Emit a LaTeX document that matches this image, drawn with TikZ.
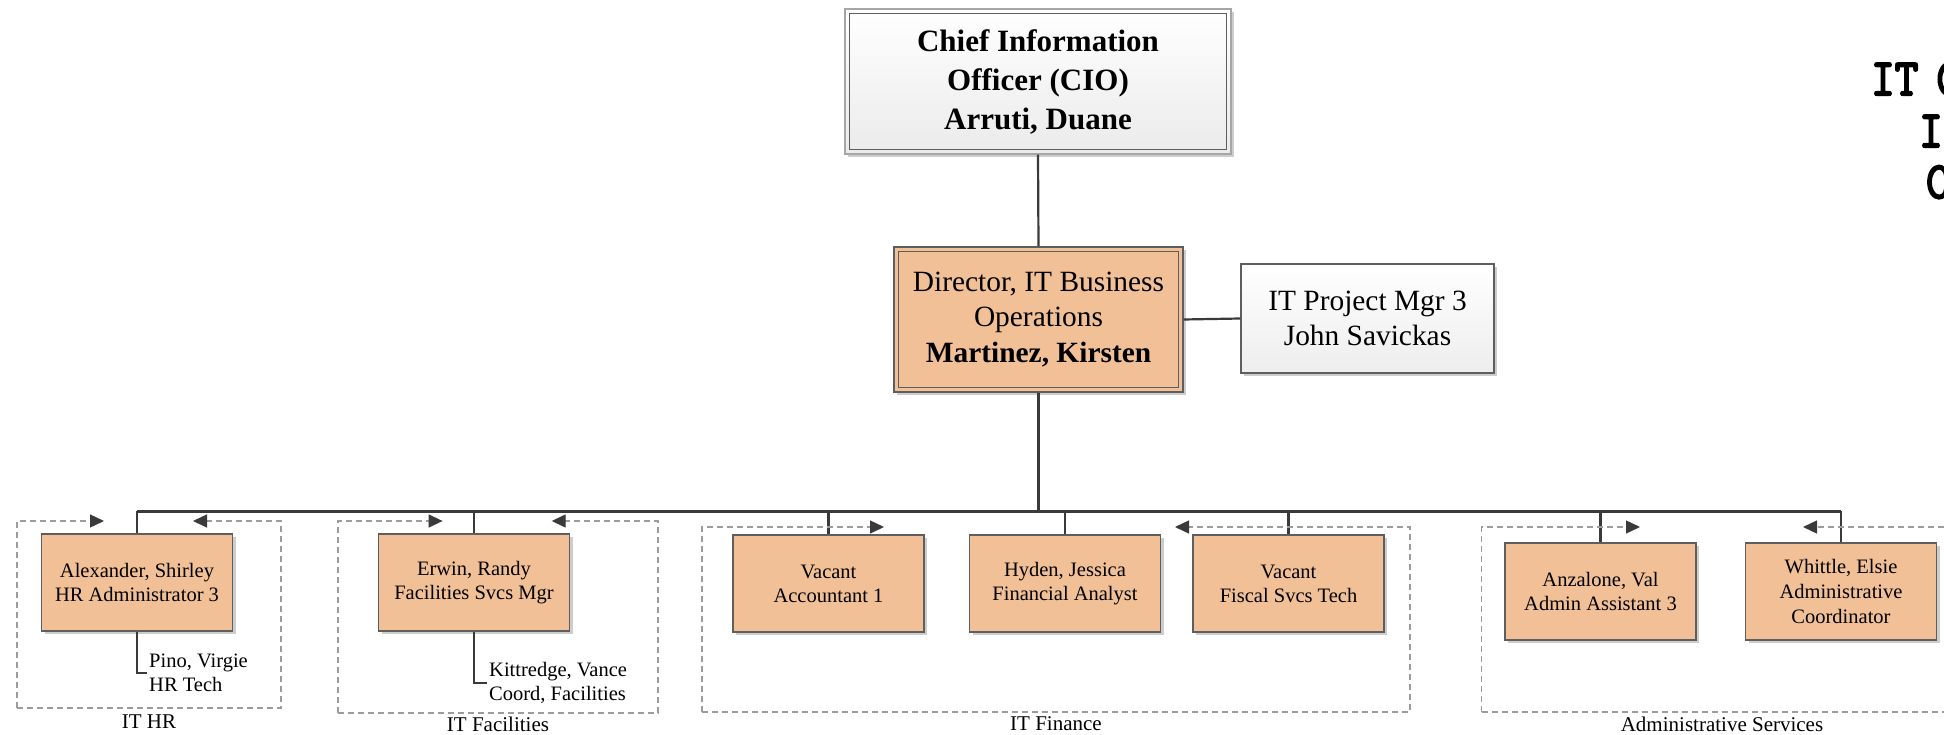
\documentclass[tikz,border=0pt]{standalone}
\usepackage{fontspec}
\setmainfont{Liberation Serif}
\newfontfamily\titlefont[FakeBold=4]{Latin Modern Mono}
\usetikzlibrary{arrows.meta,shadows}
\definecolor{peach}{HTML}{F1C096}
\definecolor{edgeclr}{HTML}{5E5E5E}
\definecolor{lineclr}{HTML}{3A3A3A}
\definecolor{grpclr}{HTML}{9C9C9C}
\begin{document}
\begin{tikzpicture}[x=1pt,y=-1pt,
  shad/.style={drop shadow={shadow xshift=3pt,shadow yshift=-3pt,opacity=0.28,fill=black!70}},
  basebox/.style={draw=edgeclr,line width=1.1pt,shad,inner sep=0pt,align=center},
  orgbox/.style={basebox,fill=peach,minimum width=191pt,minimum height=97pt,
     font=\fontsize{20.5}{24}\selectfont},
  bigbox/.style={basebox,minimum width=#1,font=\fontsize{29.4}{35.5}\selectfont},
  innerline/.style={draw=edgeclr,line width=1.1pt},
  conn/.style={draw=lineclr,line width=2.2pt},
  busline/.style={draw=lineclr,line width=3pt},
  grp/.style={draw=grpclr,line width=1.4pt,dash pattern=on 6pt off 4pt,
     -{Triangle[length=14pt,width=13pt,color=lineclr,fill=lineclr]}},
  grplabel/.style={font=\fontsize{21}{24}\selectfont,inner sep=0pt},
  subtext/.style={font=\fontsize{20.5}{24.5}\selectfont,align=left,inner sep=2pt,anchor=west},
  titlefrag/.style={anchor=base west,inner sep=0pt,font=\titlefont\fontsize{52}{52}\selectfont,xscale=0.88}
]
\useasboundingbox (0,0) rectangle (1944,735);
\clip (0,0) rectangle (1944,735);
\fill[white] (0,0) rectangle (1944,735);

% title fragment at right edge
\node[titlefrag] (t1) at (1871,95) {IT\kern-6pt\ C};
\node[titlefrag] (t2) at (1919,147) {I};
\node[titlefrag] (t3) at (1926,198) {C};

% top level
\node[bigbox=386pt,minimum height=145pt,top color=white,bottom color=gray!16,
      draw=gray!70,font=\fontsize{31}{39}\selectfont\bfseries] (cio) at (1038,81.5)
  {Chief Information\\Officer (CIO)\\Arruti, Duane};
\draw[innerline] ([shift={(5,5)}]cio.north west) rectangle ([shift={(-5,-5)}]cio.south east);

\node[bigbox=289pt,minimum height=145pt,fill=peach] (dir) at (1038.5,319.5)
  {Director, IT Business\\Operations\\\textbf{Martinez, Kirsten}};
\draw[innerline] ([shift={(5,5)}]dir.north west) rectangle ([shift={(-5,-5)}]dir.south east);

\node[bigbox=253pt,minimum height=109pt,top color=white,bottom color=gray!14] (proj) at (1367.5,318.5)
  {IT Project Mgr 3\\John Savickas};

% staff boxes
\node[orgbox] (alex) at (137,582.5) {Alexander, Shirley\\HR Administrator 3};
\node[orgbox] (erw) at (474,582.5) {Erwin, Randy\\Facilities Svcs Mgr};
\node[orgbox] (acc) at (828.5,583.5) {Vacant\\Accountant 1};
\node[orgbox] (hyd) at (1065,583.5) {Hyden, Jessica\\Financial Analyst};
\node[orgbox] (fis) at (1288.5,583.5) {Vacant\\Fiscal Svcs Tech};
\node[orgbox] (anz) at (1600.5,591.5) {Anzalone, Val\\Admin Assistant 3};
\node[orgbox,font=\fontsize{20.5}{25}\selectfont] (whit) at (1841,591.5) {Whittle, Elsie\\Administrative\\Coordinator};

\node[subtext] (pino) at (147,673) {Pino, Virgie\\HR Tech};
\node[subtext] (kit) at (487,683) {Kittredge, Vance\\Coord, Facilities};

% connectors
\coordinate (busL) at (137,511);
\draw[conn] (cio.south) -- (dir.north);
\draw[conn] (dir.east) -- (proj.west);
\draw[busline] (dir.south) -- (dir.south |- busL);
\draw[busline] (alex.north |- busL) -- (whit.north |- busL);
\foreach \n in {alex,erw,acc,hyd,fis,anz,whit}{
  \draw[conn] (\n.north) -- (\n.north |- busL);
}
\draw[conn] (alex.south) |- (pino.west);
\draw[conn] (erw.south) |- (kit.west);

% groups
\draw[grp] (17,708) -- (17,521) -- (104,521);
\draw[grp] (17,708) -- (281,708) -- (281,521) -- (193,521);
\node[grplabel] (ghr) at (149,722) {IT HR};

\draw[grp] (338,713) -- (338,521) -- (442.6,521);
\draw[grp] (338,713) -- (658,713) -- (658,521) -- (551.7,521);
\node[grplabel] (gfac) at (498,724) {IT Facilities};

\draw[grp] (702,712) -- (702,527) -- (884,527);
\draw[grp] (702,712) -- (1410,712) -- (1410,527) -- (1175,527);
\node[grplabel] (gfin) at (1056,724) {IT Finance};

\draw[grp] (1481.5,712) -- (1481.5,527) -- (1640,527);
\draw[grp] (1481.5,712) -- (1990,712) -- (1990,527) -- (1803,527);
\node[grplabel] (gadm) at (1722,724) {Administrative Services};
\end{tikzpicture}
\end{document}
